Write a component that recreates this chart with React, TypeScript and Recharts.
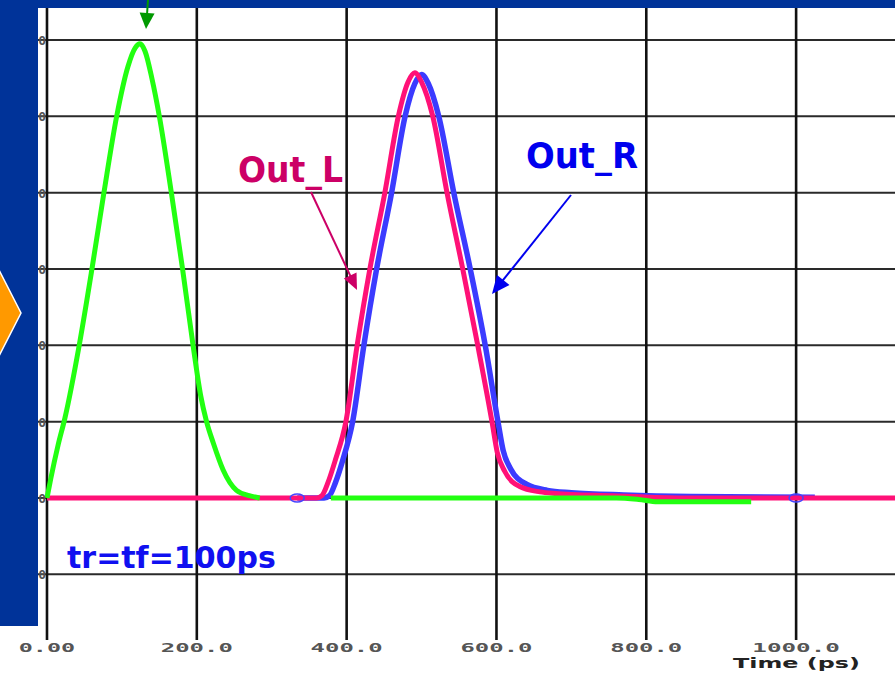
import React from "react";
import { LineChart, Line, XAxis, YAxis, CartesianGrid, Scatter } from "recharts";

// ---- data ----
const xTicks = [0, 200, 400, 600, 800, 1000];
const xTickLabels = ["0.00", "200.0", "400.0", "600.0", "800.0", "1000.0"];
const yTicks = [-1, 0, 1, 2, 3, 4, 5, 6];
const yTickLabels = ["-1.0", "0.0", "1.0", "2.0", "3.0", "4.0", "5.0", "6.0"];

// green input pulse (with a gap in the trace)
const greenT = [0, 5, 15, 24, 43, 60, 76, 93, 108, 118, 124, 131, 140, 150, 166, 181, 195, 205, 213, 222, 235, 253, 270, 284, 330, 379, 600, 760, 790, 815, 940];
const greenV = [0, 0.25, 0.7, 1.05, 2.0, 3.0, 4.0, 5.0, 5.65, 5.9, 5.95, 5.85, 5.5, 5.0, 4.0, 3.0, 2.0, 1.35, 1.0, 0.72, 0.37, 0.1, 0.03, 0, null, 0, 0, 0, -0.02, -0.05, -0.05];

// Out_L (pink)
const pinkT = [0, 360, 367, 375, 385, 399, 414, 431, 451, 469, 482, 491, 500, 515, 534, 555, 575, 594, 601, 611, 631, 658, 678, 755, 850, 1132];
const pinkV = [0, 0, 0.03, 0.2, 0.5, 1.0, 2.0, 3.0, 4.0, 5.0, 5.45, 5.57, 5.45, 5.0, 4.0, 3.0, 2.0, 1.0, 0.6, 0.35, 0.15, 0.08, 0.06, 0.03, 0, 0];

// Out_R (blue)
const blueT = [334, 370, 377, 385, 395, 408, 423, 440, 460, 478, 491, 500, 509, 523, 543, 565, 585, 602, 609, 619, 640, 668, 700, 770, 860, 1025];
const blueV = [0, 0, 0.03, 0.2, 0.5, 1.0, 2.0, 3.0, 4.0, 5.0, 5.43, 5.55, 5.43, 5.0, 4.0, 3.0, 2.0, 1.0, 0.62, 0.38, 0.18, 0.1, 0.07, 0.04, 0.02, 0.01];

const blueMarkerT = [334, 1000];
const blueMarkerV = [0, 0];

const greenData = greenT.map((t, i) => ({ t, v: greenV[i] }));
const pinkData = pinkT.map((t, i) => ({ t, v: pinkV[i] }));
const blueData = blueT.map((t, i) => ({ t, v: blueV[i] }));
const blueMarkers = blueMarkerT.map((t, i) => ({ t, v: blueMarkerV[i] }));

const XTick = (p: any) => {
  const i = xTicks.indexOf(p.payload.value);
  const label = xTickLabels[i] ?? String(p.payload.value);
  return (
    <text
      x={p.x}
      y={652}
      textAnchor="middle"
      fontFamily="DejaVu Sans Mono"
      fontWeight="bold"
      fontSize={12.5}
      fill="#555"
      textLength={label.length * 15.6 - 6}
      lengthAdjust="spacingAndGlyphs"
    >
      {label}
    </text>
  );
};

const YTick = (p: any) => {
  const i = yTicks.indexOf(p.payload.value);
  const label = yTickLabels[i] ?? String(p.payload.value);
  return (
    <text x={46} y={p.y + 5} textAnchor="end" fontFamily="DejaVu Sans Mono" fontWeight="bold" fontSize={13} fill="#555">
      {label}
    </text>
  );
};

const Ring = (p: any) => (
  <ellipse cx={p.cx} cy={p.cy} rx={7} ry={4} fill="none" stroke="#4444ff" strokeWidth={1.5} />
);

function Arrow({ x1, y1, x2, y2, color, len = 16, w = 7, sw = 2 }: any) {
  const dx = x2 - x1;
  const dy = y2 - y1;
  const L = Math.hypot(dx, dy);
  const ux = dx / L;
  const uy = dy / L;
  const bx = x2 - ux * len;
  const by = y2 - uy * len;
  const px = -uy;
  const py = ux;
  return (
    <g>
      <line x1={x1} y1={y1} x2={bx + ux * 2} y2={by + uy * 2} stroke={color} strokeWidth={sw} />
      <polygon points={`${x2},${y2} ${bx + px * w},${by + py * w} ${bx - px * w},${by - py * w}`} fill={color} />
    </g>
  );
}

export default function App() {
  return (
    <div style={{ position: "absolute", left: 0, top: 0, width: 895, height: 673, background: "#fff", overflow: "hidden" }}>
      <LineChart width={895} height={673} margin={{ top: 8, right: 0, bottom: 0, left: 0 }}>
        <CartesianGrid horizontal={true} vertical={false} syncWithTicks stroke="#2a2a2a" strokeWidth={2} />
        <CartesianGrid horizontal={false} vertical={true} syncWithTicks stroke="#111" strokeWidth={2.6} />
        <XAxis
          dataKey="t"
          type="number"
          domain={[-12, 1132]}
          allowDataOverflow
          ticks={xTicks}
          tick={<XTick />}
          tickLine={false}
          axisLine={false}
          height={33}
          interval={0}
        />
        <YAxis
          type="number"
          domain={[-1.861, 6.42]}
          allowDataOverflow
          ticks={yTicks}
          tick={<YTick />}
          tickLine={false}
          axisLine={false}
          width={38}
          interval={0}
        />
        <Line data={blueData} dataKey="v" type="monotone" stroke="#3b3bff" strokeWidth={5.5} dot={false} isAnimationActive={false} />
        <Line data={pinkData} dataKey="v" type="monotone" stroke="#ff1177" strokeWidth={5} dot={false} isAnimationActive={false} />
        <Line data={greenData} dataKey="v" type="monotone" stroke="#22ff11" strokeWidth={5} dot={false} connectNulls={false} isAnimationActive={false} />
        <Scatter data={blueMarkers} dataKey="v" shape={<Ring />} isAnimationActive={false} />
      </LineChart>
      <svg width={895} height={673} style={{ position: "absolute", left: 0, top: 0, pointerEvents: "none" }}>
        <rect x={0} y={0} width={895} height={8} fill="#003399" />
        <rect x={0} y={0} width={38} height={626} fill="#003399" />
        <polygon points="-3,266 21,313 -3,360" fill="#ff9900" stroke="#ffffff" strokeWidth={1.5} />
        <Arrow x1={148} y1={0} x2={146} y2={29} color="#009900" len={16} w={7.5} />
        <Arrow x1={311} y1={192} x2={357} y2={290} color="#cc0066" len={16} w={7} />
        <Arrow x1={571} y1={195} x2={492} y2={294} color="#0000ee" len={18} w={8} />
        <text x={238} y={182} fontFamily="DejaVu Sans" fontWeight="bold" fontSize={35} fill="#cc0066" textLength={105} lengthAdjust="spacingAndGlyphs">Out_L</text>
        <text x={526} y={168} fontFamily="DejaVu Sans" fontWeight="bold" fontSize={35} fill="#0000ee" textLength={112} lengthAdjust="spacingAndGlyphs">Out_R</text>
        <text x={67} y={568} fontFamily="DejaVu Sans" fontWeight="bold" fontSize={30} fill="#1010f0">tr=tf=100ps</text>
        <text x={733} y={668} fontFamily="DejaVu Sans" fontWeight="bold" fontSize={14} fill="#222" textLength={127} lengthAdjust="spacingAndGlyphs">Time (ps)</text>
      </svg>
    </div>
  );
}
